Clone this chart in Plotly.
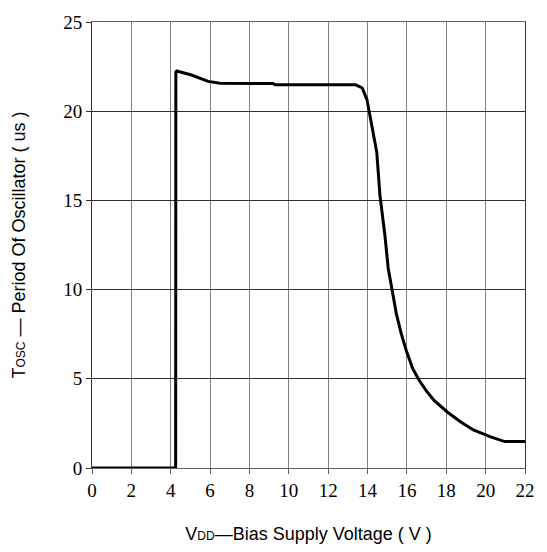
import plotly.graph_objects as go

vdd = [0, 4.25, 4.26, 4.3, 5.05, 5.9, 6.5, 9.2, 9.3, 12.4, 13.4, 13.73, 13.97, 14.22,
       14.47, 14.63, 14.88, 15.05, 15.22, 15.47, 15.72, 15.97, 16.3, 16.63, 16.97,
       17.38, 18.05, 18.72, 19.38, 20.22, 20.97, 22]
tosc = [0, 0, 22.2, 22.25, 22.03, 21.67, 21.57, 21.55, 21.48, 21.48, 21.48, 21.3, 20.65, 19.17,
        17.68, 15.28, 13.06, 11.2, 10.09, 8.61, 7.5, 6.57, 5.56, 4.9, 4.35,
        3.79, 3.14, 2.59, 2.13, 1.76, 1.48, 1.48]

x_ticks = [0, 2, 4, 6, 8, 10, 12, 14, 16, 18, 20, 22]
y_ticks = [0, 5, 10, 15, 20, 25]

serif = "Liberation Serif, Times New Roman, serif"
sans = "Liberation Sans, Arial, sans-serif"

fig = go.Figure()
fig.add_trace(go.Scatter(x=vdd, y=tosc, mode="lines",
                         line=dict(color="black", width=3), showlegend=False))

fig.update_layout(
    width=547, height=552,
    margin=dict(l=92, r=15, t=20, b=84),
    paper_bgcolor="white", plot_bgcolor="white",
    xaxis=dict(range=[0, 22], tickvals=x_ticks, ticktext=[str(v) for v in x_ticks],
               showgrid=True, gridcolor="#808080", gridwidth=1,
               showline=True, linecolor="#606060", linewidth=1, mirror=True,
               ticks="outside", ticklen=5, tickcolor="#606060",
               tickfont=dict(family=serif, size=19, color="black"),
               zeroline=False,
               title=dict(text='V<span style="font-size:12px">DD</span>—Bias Supply Voltage ( V )',
                          font=dict(family=sans, size=18, color="black"),
                          standoff=27)),
    yaxis=dict(range=[0, 25], tickvals=y_ticks, ticktext=[str(v) for v in y_ticks],
               showgrid=True, gridcolor="#303030", gridwidth=1,
               showline=True, linecolor="#303030", linewidth=1, mirror=True,
               ticks="outside", ticklen=5, tickcolor="#303030",
               tickfont=dict(family=serif, size=19, color="black"),
               zeroline=False,
               title=dict(text='T<span style="font-size:12px">OSC</span> — Period Of Oscillator ( us )',
                          font=dict(family=sans, size=18, color="black"),
                          standoff=32)),
)

fig.write_html("out.html", config={"displayModeBar": False},
               post_script="document.body.style.margin='0';document.body.style.overflow='hidden';")
